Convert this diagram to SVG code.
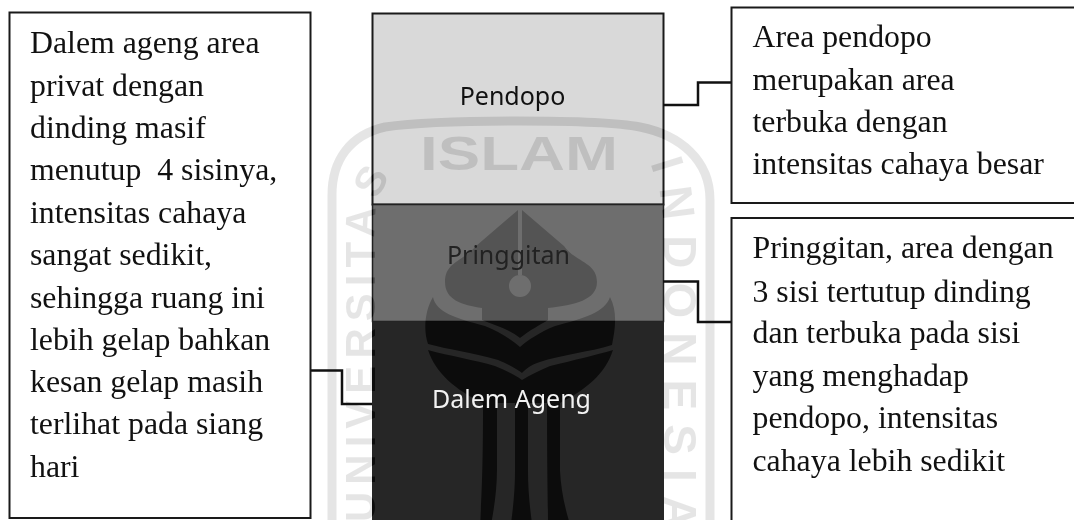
<svg xmlns="http://www.w3.org/2000/svg" width="1074" height="520" viewBox="0 0 1074 520">
<style>
.box{fill:#fff;stroke:#1a1a1a;stroke-width:2}
.zone{stroke:#1a1a1a;stroke-width:2}
.conn{fill:none;stroke:#111;stroke-width:2.5}
.t{font-family:"Liberation Serif","Times New Roman",serif;font-size:31.8px;fill:#111}
.l{font-family:"Noto Sans","Open Sans",sans-serif;font-size:25px;text-anchor:middle}
.wm{fill:#1a1a1a;font-family:"Liberation Sans",Arial,sans-serif;font-weight:bold}
</style>
<defs>
<path id="wmL" d="M375 522 L375 225 C375 205 380 190 395 170"/>
<path id="wmR" d="M650 163 C658 185 664 210 664 237 L664 570"/>
</defs>
<rect width="1074" height="520" fill="#fff"/>
<g id="zones">
<rect class="zone" x="372.5" y="13.5" width="291" height="191" fill="#d9d9d9"/>
<rect x="372.5" y="204.500" width="291" height="117" fill="#6e6e6e" stroke="#222" stroke-width="1.5"/>
<rect x="372" y="321.500" width="292" height="210" fill="#262626"/>
</g>
<g id="watermark" style="mix-blend-mode:difference">
<path d="M332 530 L332 195 C332 160 350 135 385 127 C440 119 600 119 640 127 C680 135 710 160 710 200 L710 530" fill="none" stroke="#1a1a1a" stroke-width="9"/>
<text class="wm" x="420" y="170" font-size="49" textLength="198" lengthAdjust="spacingAndGlyphs">ISLAM</text>
<text class="wm" font-size="42" letter-spacing="7"><textPath href="#wmL" startOffset="0">UNIVERSITAS</textPath></text>
<text class="wm" font-size="46" letter-spacing="14"><textPath href="#wmR" startOffset="0">INDONESIA</textPath></text>
<path fill="#1a1a1a" fill-rule="evenodd" d="M518 210 L476 246 C462 262 445 262 445 282 C445 300 462 305 482 308 L482 320 C495 325 510 330 520 338 C530 330 540 325 548 320 L548 308 C575 305 597 300 597 282 C597 262 575 262 564 246 L522 210 L522 275 L518 275 Z M531 286 A11 11 0 1 0 509 286 A11 11 0 1 0 531 286 Z"/>
<path fill="#1a1a1a" d="M433 297 C436 312 455 318 485 326 C500 332 512 340 520 347 C528 340 540 332 555 326 C585 318 605 312 610 297 C618 312 615 330 612 345 C590 352 560 355 540 362 C530 365 525 370 522 373 C518 370 510 365 498 360 C470 352 450 350 428 344 C423 330 425 310 433 297 Z"/>
<path fill="#1a1a1a" d="M428 350 C450 356 475 360 495 366 C505 370 515 375 522 380 C530 375 540 370 550 366 C575 360 595 355 613 350 C605 375 585 390 560 403 L560 470 C561 490 565 510 572 530 L548 530 C548 500 547 480 547 403 L528 403 L528 470 C528 490 530 510 533 530 L510 530 C513 510 515 490 515 470 L515 403 L497 403 L497 470 C497 490 494 510 490 530 L480 530 C481 500 483 480 483 403 C455 390 435 372 428 350 Z"/>
</g>
<g id="zone-labels">
<text class="l" x="512.500" y="105" fill="#111">Pendopo</text>
<text class="l" x="508.500" y="264" fill="#222">Pringgitan</text>
<text class="l" x="511.500" y="408" fill="#f2f2f2">Dalem Ageng</text>
</g>
<g id="connectors">
<path class="conn" d="M663 105 H698 V82.500 H731"/>
<path class="conn" d="M663 281.500 H698 V322 H731"/>
<path class="conn" d="M311 370.500 H342 V404 H372"/>
</g>
<g id="box-left">
<rect class="box" x="9.500" y="12.500" width="301" height="505.500"/>
<text class="t"><tspan x="30" y="53">Dalem ageng area</tspan><tspan x="30" y="96">privat dengan</tspan><tspan x="30" y="138">dinding masif</tspan><tspan x="30" y="180" xml:space="preserve">menutup  4 sisinya,</tspan><tspan x="30" y="223">intensitas cahaya</tspan><tspan x="30" y="265">sangat sedikit,</tspan><tspan x="30" y="308">sehingga ruang ini</tspan><tspan x="30" y="350">lebih gelap bahkan</tspan><tspan x="30" y="392">kesan gelap masih</tspan><tspan x="30" y="434">terlihat pada siang</tspan><tspan x="30" y="477">hari</tspan></text>
</g>
<g id="box-pendopo">
<rect class="box" x="731.500" y="7.500" width="350" height="195.500"/>
<text class="t"><tspan x="752.500" y="47">Area pendopo</tspan><tspan x="752.500" y="90">merupakan area</tspan><tspan x="752.500" y="132">terbuka dengan</tspan><tspan x="752.500" y="174">intensitas cahaya besar</tspan></text>
</g>
<g id="box-pringgitan">
<rect class="box" x="731.500" y="218" width="350" height="320"/>
<text class="t"><tspan x="752.500" y="258">Pringgitan, area dengan</tspan><tspan x="752.500" y="302">3 sisi tertutup dinding</tspan><tspan x="752.500" y="343">dan terbuka pada sisi</tspan><tspan x="752.500" y="386">yang menghadap</tspan><tspan x="752.500" y="428">pendopo, intensitas</tspan><tspan x="752.500" y="471">cahaya lebih sedikit</tspan></text>
</g>
</svg>
